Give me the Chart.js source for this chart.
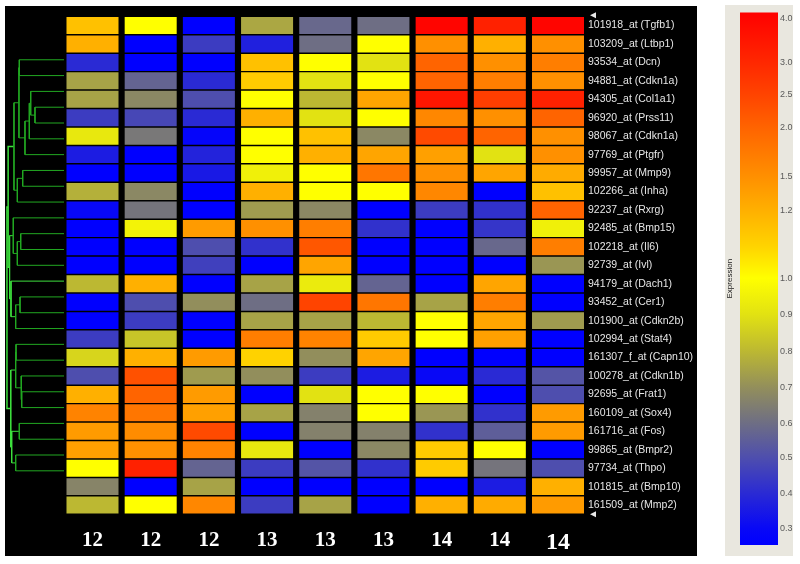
<!DOCTYPE html>
<html>
<head>
<meta charset="utf-8">
<script src="https://cdn.jsdelivr.net/npm/chart.js@4"></script>
<style>
  html, body { margin: 0; padding: 0; background: #fff; }
  body { width: 800px; height: 564px; position: relative; overflow: hidden; }
  #panel { position: absolute; left: 5px; top: 6px; width: 692px; height: 550px; background: #000; }
  #legend { position: absolute; left: 725px; top: 5px; width: 68px; height: 551px; background: #e9e7df; }
  canvas { display: block; }
</style>
</head>
<body>
<div id="panel"><canvas id="heatmap" width="692" height="550"></canvas></div>
<div id="legend"><canvas id="colorbar" width="68" height="551"></canvas></div>
<script>
  // sample (column) labels along the bottom
  const ages = ['12', '12', '12', '13', '13', '13', '14', '14', '14'];

  // probe set (row) labels, top to bottom
  const probes = [
    '101918_at (Tgfb1)', '103209_at (Ltbp1)', '93534_at (Dcn)', '94881_at (Cdkn1a)',
    '94305_at (Col1a1)', '96920_at (Prss11)', '98067_at (Cdkn1a)', '97769_at (Ptgfr)',
    '99957_at (Mmp9)', '102266_at (Inha)', '92237_at (Rxrg)', '92485_at (Bmp15)',
    '102218_at (Il6)', '92739_at (Ivl)', '94179_at (Dach1)', '93452_at (Cer1)',
    '101900_at (Cdkn2b)', '102994_at (Stat4)', '161307_f_at (Capn10)', '100278_at (Cdkn1b)',
    '92695_at (Frat1)', '160109_at (Sox4)', '161716_at (Fos)', '99865_at (Bmpr2)',
    '97734_at (Thpo)', '101815_at (Bmp10)', '161509_at (Mmp2)'
  ];

  // expression ratio per sample, one value per probe (same order as probes)
  const e12a = [1.15, 1.2, 0.4, 0.75, 0.75, 0.45, 0.92, 0.36, 0.25, 0.78, 0.3, 0.25, 0.25, 0.25,
                0.8, 0.25, 0.25, 0.45, 0.87, 0.5, 1.2, 1.65, 1.4, 1.35, 1.0, 0.67, 0.8];
  const e12b = [1.0, 0.25, 0.25, 0.57, 0.68, 0.48, 0.63, 0.25, 0.25, 0.68, 0.62, 0.96, 0.25, 0.25,
                1.2, 0.5, 0.45, 0.83, 1.2, 2.3, 2.0, 1.8, 1.55, 1.5, 3.2, 0.25, 1.0];
  const e12c = [0.25, 0.45, 0.25, 0.4, 0.5, 0.4, 0.28, 0.38, 0.35, 0.25, 0.25, 1.4, 0.5, 0.46,
                0.25, 0.7, 0.25, 0.25, 1.4, 0.73, 1.4, 1.35, 2.4, 1.65, 0.57, 0.75, 1.6];
  const e13a = [0.76, 0.37, 1.15, 1.12, 1.0, 1.2, 1.0, 1.0, 0.95, 1.2, 0.73, 1.5, 0.42, 0.25,
                0.75, 0.6, 0.75, 1.7, 1.1, 0.7, 0.25, 0.75, 0.25, 0.92, 0.45, 0.25, 0.45];
  const e13b = [0.58, 0.6, 1.0, 0.9, 0.8, 0.9, 1.15, 1.2, 1.0, 1.0, 0.68, 1.7, 2.2, 1.3,
                0.93, 2.5, 0.75, 1.65, 0.7, 0.45, 0.9, 0.66, 0.66, 0.25, 0.52, 0.25, 0.75];
  const e13c = [0.6, 1.0, 0.9, 1.0, 1.3, 1.0, 0.68, 1.3, 1.8, 1.0, 0.25, 0.42, 0.25, 0.25,
                0.57, 1.8, 0.8, 1.12, 1.3, 0.36, 1.0, 1.0, 0.66, 0.68, 0.42, 0.25, 0.25];
  const e14a = [4.0, 1.5, 2.0, 2.0, 3.5, 1.6, 2.4, 1.35, 1.5, 1.6, 0.45, 0.25, 0.25, 0.25,
                0.25, 0.75, 1.0, 1.0, 0.25, 0.3, 1.0, 0.72, 0.42, 1.12, 1.12, 0.25, 1.2];
  const e14b = [3.2, 1.2, 1.5, 1.7, 2.6, 1.5, 2.0, 0.9, 1.3, 0.25, 0.42, 0.43, 0.58, 0.25,
                1.3, 1.7, 1.3, 1.35, 0.25, 0.4, 0.25, 0.42, 0.55, 1.0, 0.62, 0.36, 1.25];
  const e14c = [4.0, 1.5, 1.7, 1.5, 3.2, 2.0, 1.5, 1.5, 1.25, 1.15, 2.0, 0.95, 1.7, 0.72,
                0.25, 0.25, 0.73, 0.25, 0.25, 0.52, 0.5, 1.4, 1.4, 0.25, 0.5, 1.2, 1.4];
  const samples = [e12a, e12b, e12c, e13a, e13b, e13c, e14a, e14b, e14c];

  // row dendrogram: [childA, childB, height]; ids below probes.length are rows,
  // probes.length + k is the k-th merge
  const merges = [
    [3, 4, 0.496], [2, 27, 0.569], [28, 5, 0.593], [29, 6, 0.667], [0, 1, 0.764],
    [31, 30, 0.77], [7, 8, 0.706], [33, 9, 0.798], [32, 34, 0.855], [11, 12, 0.74],
    [36, 13, 0.798], [10, 37, 0.867], [15, 16, 0.752], [39, 17, 0.826], [14, 40, 0.906],
    [21, 22, 0.723], [20, 42, 0.735], [18, 19, 0.82], [44, 43, 0.826], [23, 24, 0.764],
    [25, 26, 0.826], [46, 47, 0.894], [45, 48, 0.91], [38, 41, 0.93], [35, 50, 0.955],
    [51, 49, 0.975]
  ];

  // colour legend ticks
  const legendValues = [4.0, 3.0, 2.5, 2.0, 1.5, 1.2, 1.0, 0.9, 0.8, 0.7, 0.6, 0.5, 0.4, 0.3];

  /*
   * Colour scale (legend is non-linear: tick slot along the bar, 0 = top)
   */
  const legendSlots = [0.011, 0.095, 0.155, 0.217, 0.309, 0.372, 0.499,
                       0.567, 0.636, 0.705, 0.771, 0.836, 0.903, 0.969];
  const gradientStops = [
    [0, '#ff0000'], [0.095, '#ff2800'], [0.155, '#ff4400'], [0.217, '#ff6400'],
    [0.309, '#ff9000'], [0.372, '#ffb000'], [0.44, '#ffd400'], [0.499, '#ffff00'],
    [0.567, '#e2e212'], [0.636, '#bcb832'], [0.705, '#928e5c'], [0.771, '#6e6e84'],
    [0.836, '#4e4eae'], [0.903, '#2a2ad4'], [0.969, '#0808f6'], [1, '#0000ff']
  ];

  function valueToSlot(v) {
    if (v >= legendValues[0]) return legendSlots[0];
    for (let i = 1; i < legendValues.length; i++) {
      const a = legendValues[i - 1];
      const b = legendValues[i];
      if (v >= b) {
        return legendSlots[i - 1] + (a - v) / (a - b) * (legendSlots[i] - legendSlots[i - 1]);
      }
    }
    const n = legendValues.length - 1;
    const slope = (legendSlots[n] - legendSlots[n - 1]) / (legendValues[n - 1] - legendValues[n]);
    return Math.min(1, legendSlots[n] + (legendValues[n] - v) * slope);
  }

  function hexToRgb(hex) {
    const n = parseInt(hex.slice(1), 16);
    return [(n >> 16) & 255, (n >> 8) & 255, n & 255];
  }

  function colourAt(p) {
    for (let i = 1; i < gradientStops.length; i++) {
      const [p0, c0] = gradientStops[i - 1];
      const [p1, c1] = gradientStops[i];
      if (p <= p1) {
        const t = (p - p0) / (p1 - p0);
        const a = hexToRgb(c0);
        const b = hexToRgb(c1);
        const rgb = a.map((x, k) => Math.round(x + (b[k] - x) * t));
        return `rgb(${rgb[0]},${rgb[1]},${rgb[2]})`;
      }
    }
    return gradientStops[gradientStops.length - 1][1];
  }

  /*
   * Layout of the heat map canvas
   */
  const PLOT_W = 579;          // chart area width (canvas 692 - label column 113)
  const LABEL_COL = 113;
  const COL_PITCH = 58.19;
  const FIRST_COL_PX = 87.5;   // first column centre inside the chart area
  const CELL_HALF = 0.447;     // half a cell width, in column units
  const X_MIN = -FIRST_COL_PX / COL_PITCH;
  const X_MAX = X_MIN + PLOT_W / COL_PITCH;
  const DEND_LEAF_PX = 59;     // where dendrogram leaves end
  const DEND_UNIT_PX = 58.5;   // px per unit of merge height
  const XD_MAX = DEND_LEAF_PX / DEND_UNIT_PX;
  const XD_MIN = XD_MAX - PLOT_W / DEND_UNIT_PX;

  const sans = "'Liberation Sans', Arial, sans-serif";
  const serif = "'Liberation Serif', 'Times New Roman', serif";

  const cellDatasets = samples.map((values, col) => ({
    type: 'bar',
    indexAxis: 'y',
    xAxisID: 'x',
    yAxisID: 'y',
    data: values.map(() => [col - CELL_HALF, col + CELL_HALF]),
    backgroundColor: values.map((v) => colourAt(valueToSlot(v))),
    borderWidth: 0,
    grouped: false,
    categoryPercentage: 1,
    barPercentage: 0.92
  }));

  const nodeY = probes.map((_, i) => i);
  const nodeH = probes.map(() => 0);
  const dendroDatasets = merges.map(([a, b, h], k) => {
    nodeY[probes.length + k] = (nodeY[a] + nodeY[b]) / 2;
    nodeH[probes.length + k] = h;
    return {
      type: 'line',
      indexAxis: 'x',
      xAxisID: 'xd',
      yAxisID: 'yd',
      data: [
        { x: nodeH[a], y: nodeY[a] },
        { x: h, y: nodeY[a] },
        { x: h, y: nodeY[b] },
        { x: nodeH[b], y: nodeY[b] }
      ],
      borderColor: h >= 0.89 ? '#3ee03e' : '#22a822',
      borderWidth: h >= 0.95 ? 1.5 : 1,
      pointRadius: 0,
      tension: 0,
      fill: false
    };
  });

  const endMarkers = {
    id: 'endMarkers',
    afterDraw(chart) {
      const { ctx, chartArea } = chart;
      ctx.save();
      ctx.fillStyle = '#e8e8e8';
      for (const y of [chartArea.top - 1, chartArea.bottom]) {
        const x = chartArea.right + 6;
        ctx.beginPath();
        ctx.moveTo(x, y);
        ctx.lineTo(x + 6, y - 3);
        ctx.lineTo(x + 6, y + 3);
        ctx.closePath();
        ctx.fill();
      }
      ctx.restore();
    }
  };

  new Chart(document.querySelector('#heatmap'), {
    type: 'bar',
    data: {
      labels: probes,
      datasets: [...cellDatasets, ...dendroDatasets]
    },
    options: {
      indexAxis: 'y',
      responsive: false,
      animation: false,
      layout: { padding: { top: 9, left: 0, right: 0, bottom: 0 } },
      plugins: { legend: { display: false }, tooltip: { enabled: false } },
      scales: {
        x: {
          axis: 'x',
          type: 'linear',
          position: 'bottom',
          min: X_MIN,
          max: X_MAX,
          offset: false,
          grid: { display: false, drawTicks: false },
          border: { display: false },
          afterBuildTicks: (scale) => {
            scale.ticks = ages.map((_, i) => ({ value: i }));
          },
          afterFit: (scale) => { scale.height = 41.7; },
          ticks: {
            autoSkip: false,
            maxRotation: 0,
            padding: 14,
            color: '#ffffff',
            font: (ctx) => ({ family: serif, weight: 'bold', size: ctx.index === ages.length - 1 ? 24 : 21 }),
            callback: (value) => ages[value]
          }
        },
        y: {
          axis: 'y',
          type: 'category',
          position: 'right',
          offset: true,
          grid: { display: false, drawTicks: false },
          border: { display: false },
          afterFit: (scale) => { scale.width = LABEL_COL; },
          ticks: {
            autoSkip: false,
            padding: 4,
            color: '#e6e6e6',
            font: { family: sans, size: 10.5 }
          }
        },
        xd: { axis: 'x', type: 'linear', display: false, reverse: true, min: XD_MIN, max: XD_MAX },
        yd: { axis: 'y', type: 'linear', display: false, reverse: true, min: -0.5, max: probes.length - 0.5 }
      }
    },
    plugins: [endMarkers]
  });

  /*
   * Colour legend
   */
  new Chart(document.querySelector('#colorbar'), {
    type: 'bar',
    data: {
      labels: [''],
      datasets: [{
        data: [[0, 1]],
        xAxisID: 'cx',
        yAxisID: 'cy',
        borderWidth: 0,
        categoryPercentage: 1,
        barPercentage: 1,
        backgroundColor: (ctx) => {
          const area = ctx.chart.chartArea;
          if (!area) return '#ffff00';
          const gradient = ctx.chart.ctx.createLinearGradient(0, area.top, 0, area.bottom);
          for (const [p, c] of gradientStops) gradient.addColorStop(p, c);
          return gradient;
        }
      }]
    },
    options: {
      responsive: false,
      animation: false,
      layout: { padding: { top: 5, bottom: 11, left: 0, right: 0 } },
      plugins: { legend: { display: false }, tooltip: { enabled: false } },
      scales: {
        cx: { axis: 'x', type: 'category', display: false, offset: true },
        cy: {
          axis: 'y',
          type: 'linear',
          position: 'right',
          min: 0,
          max: 1,
          reverse: true,
          grid: { display: false, drawTicks: false },
          border: { display: false },
          afterBuildTicks: (scale) => {
            scale.ticks = legendSlots.map((v) => ({ value: v }));
          },
          afterFit: (scale) => { scale.width = 15; },
          ticks: {
            autoSkip: false,
            padding: 2,
            color: '#5a5a5a',
            font: { family: sans, size: 9 },
            callback: (value, index) => legendValues[index].toFixed(1)
          }
        },
        cl: {
          axis: 'y',
          type: 'linear',
          position: 'left',
          min: 0,
          max: 1,
          grid: { display: false, drawTicks: false },
          border: { display: false },
          ticks: { display: false },
          afterFit: (scale) => { scale.width = 15; },
          title: { display: true, text: 'Expression', color: '#222', padding: 0, font: { family: sans, size: 8 } }
        }
      }
    }
  });
</script>
</body>
</html>
